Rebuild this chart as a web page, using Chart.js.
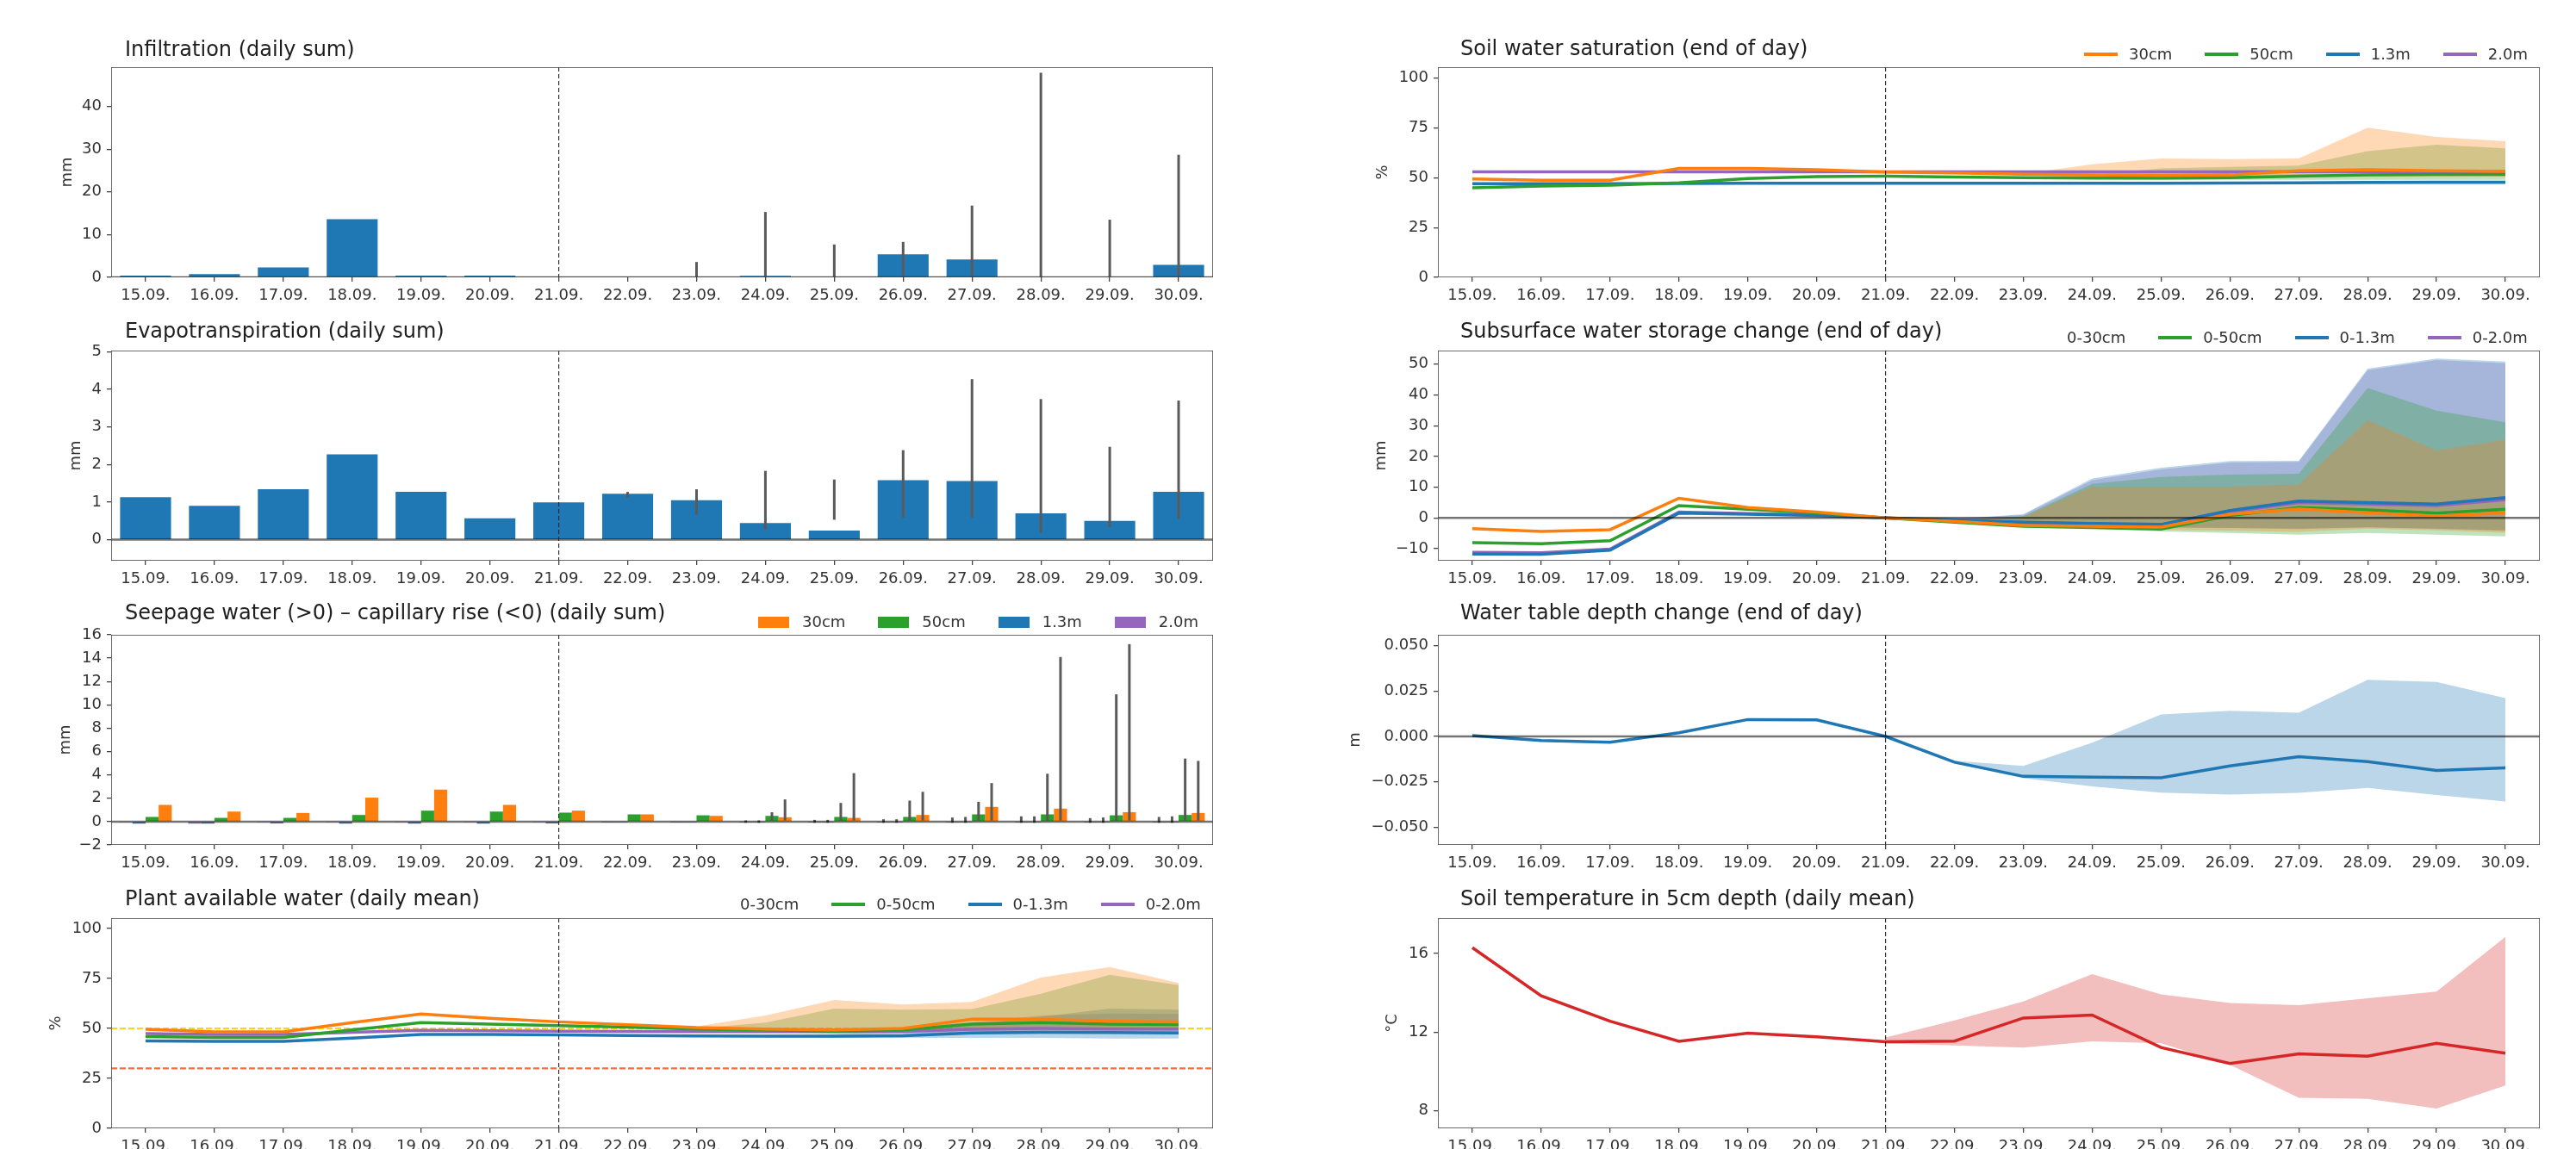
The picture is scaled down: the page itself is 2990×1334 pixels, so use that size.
<!DOCTYPE html>
<html><head><meta charset="utf-8">
<script src="https://cdn.jsdelivr.net/npm/chart.js@4.4.0/dist/chart.umd.min.js"></script>
<style>
html,body{margin:0;padding:0;background:#fff;}
body{width:2990px;height:1334px;position:relative;overflow:hidden;font-family:"DejaVu Sans",sans-serif;}
canvas{position:absolute;}
.title{position:absolute;font-size:24px;line-height:24px;color:#1e1e1e;white-space:nowrap;}
.legend{position:absolute;display:flex;align-items:center;font-size:18px;line-height:18px;height:18px;color:#333;white-space:nowrap;}
.legend .h{width:39px;height:3.5px;margin-right:13px;flex:none;}
.legend .p{width:36px;height:13px;margin-right:15px;flex:none;}
.legend .t{margin-right:38px;}
</style></head><body>
<script>
// ---------- categories & ticks ----------
const categories = ['15.09.','16.09.','17.09.','18.09.','19.09.','20.09.','21.09.','22.09.','23.09.','24.09.','25.09.','26.09.','27.09.','28.09.','29.09.','30.09.'];
const forecastStart = '21.09.';
const N = null;
const ticksInfiltration = [0,10,20,30,40];
const ticksET = [0,1,2,3,4,5];
const ticksSeepage = [-2,0,2,4,6,8,10,12,14,16];
const ticksPercent = [0,25,50,75,100];
const ticksStorage = [-10,0,10,20,30,40,50];
const ticksWaterTable = [-0.05,-0.025,0,0.025,0.05];
const ticksTemp = [8,12,16];
const pawThresholds = [50,30];

// ---------- Infiltration ----------
const infiltration     = [0.4,0.75,2.3,13.6,0.4,0.4,0,0,0,0.35,0,5.4,4.2,0,0,2.9];
const infiltrationLow  = [N,N,N,N,N,N,N,N,0,0,0,0,0,0,0,0];
const infiltrationHigh = [N,N,N,N,N,N,N,N,3.6,15.3,7.7,8.3,16.8,47.9,13.5,28.7];

// ---------- Evapotranspiration ----------
const evapotranspiration = [1.13,0.90,1.34,2.27,1.27,0.57,0.99,1.22,1.05,0.44,0.24,1.58,1.56,0.70,0.50,1.27];
const etLow  = [N,N,N,N,N,N,N,1.12,0.66,0.27,0.53,0.59,0.59,0.19,0.34,0.56];
const etHigh = [N,N,N,N,N,N,N,1.27,1.34,1.83,1.60,2.38,4.27,3.74,2.47,3.70];

// ---------- Seepage / capillary rise ----------
const seep30 = [1.43,0.86,0.74,2.05,2.74,1.43,0.94,0.62,0.49,0.37,0.32,0.57,1.26,1.11,0.81,0.74];
const seep50 = [0.40,0.32,0.32,0.57,0.94,0.86,0.77,0.62,0.54,0.49,0.40,0.40,0.62,0.62,0.54,0.57];
const seep13 = [-0.17,-0.17,-0.15,-0.17,-0.17,-0.17,-0.15,-0.02,-0.02,-0.02,-0.02,-0.02,-0.02,-0.02,-0.02,-0.02];
const seep20 = [-0.03,-0.17,-0.03,-0.03,-0.03,-0.03,-0.03,-0.01,-0.01,-0.01,-0.01,-0.01,-0.01,-0.01,-0.01,-0.01];
const seep30Low  = [N,N,N,N,N,N,N,N,N,0.1,0.1,0.1,0.1,0.1,0.1,0.1];
const seep30High = [N,N,N,N,N,N,N,N,N,1.9,4.15,2.55,3.3,14.1,15.2,5.2];
const seep50Low  = [N,N,N,N,N,N,N,N,N,0.1,0.1,0.1,0.1,0.1,0.1,0.1];
const seep50High = [N,N,N,N,N,N,N,N,N,0.8,1.6,1.8,1.7,4.1,10.9,5.4];
const seep13Low  = [N,N,N,N,N,N,N,N,N,-0.1,-0.1,-0.1,-0.1,-0.1,-0.1,-0.1];
const seep13High = [N,N,N,N,N,N,N,N,N,0.1,0.15,0.2,0.4,0.45,0.35,0.45];
const seep20Low  = [N,N,N,N,N,N,N,N,N,-0.1,-0.1,-0.1,-0.1,-0.1,-0.1,-0.1];
const seep20High = [N,N,N,N,N,N,N,N,N,0.1,0.15,0.2,0.35,0.45,0.3,0.4];

// ---------- Plant available water ----------
const paw30 = [49.6,48.3,48.3,52.9,57.2,55.1,53.3,51.9,50.4,49.7,49.3,50.0,54.6,54.6,53.6,53.2];
const paw50 = [45.9,45.5,45.5,49.3,52.9,52.2,51.4,50.7,49.7,49.3,48.6,49.3,52.2,52.9,52.2,51.9];
const paw13 = [43.8,43.5,43.5,45.2,47.0,47.0,46.8,46.5,46.2,46.1,46.1,46.4,47.8,48.1,48.0,47.8];
const paw20 = [47.4,47.0,47.0,48.1,49.0,48.8,48.6,48.5,48.4,48.4,48.4,48.5,49.6,50.0,49.7,49.7];
const paw30Lower = [N,N,N,N,N,N,53.3,51.5,49.8,48.8,48.3,48.6,49.5,50.0,50.0,50.0];
const paw30Upper = [N,N,N,N,N,N,53.3,52.4,51.0,56.5,64.2,62.0,63.3,75.4,80.7,72.8];
const paw50Lower = [N,N,N,N,N,N,51.4,50.4,49.2,48.4,47.8,48.2,48.8,49.0,49.0,49.0];
const paw50Upper = [N,N,N,N,N,N,51.4,51.0,50.0,52.9,59.9,59.4,59.7,67.4,76.8,71.7];
const paw13Lower = [N,N,N,N,N,N,46.8,46.3,45.9,45.6,45.3,45.3,45.3,45.3,45.0,45.0];
const paw13Upper = [N,N,N,N,N,N,46.8,46.7,46.6,46.8,47.2,49.3,52.0,55.8,59.9,59.4];
const paw20Lower = [N,N,N,N,N,N,48.6,48.3,48.0,47.8,47.6,47.6,47.6,47.6,47.5,47.5];
const paw20Upper = [N,N,N,N,N,N,48.6,48.6,48.7,49.0,49.4,50.5,53.0,56.5,57.5,57.2];

// ---------- Soil water saturation ----------
const sws30 = [49.4,48.8,48.8,54.7,54.7,54.0,52.9,52.4,51.8,51.4,51.1,51.4,53.5,54.0,53.5,53.2];
const sws50 = [45.0,45.8,46.3,47.5,49.6,50.6,50.8,50.4,50.1,49.8,49.8,50.1,50.8,51.4,51.7,51.7];
const sws13 = [47.0,47.0,47.0,47.1,47.2,47.2,47.2,47.2,47.2,47.2,47.2,47.3,47.5,47.7,47.8,47.8];
const sws20 = [53.0,53.0,53.0,53.0,53.0,53.0,53.0,53.0,53.0,53.0,53.0,53.0,53.1,53.1,53.1,53.1];
const sws30Lower = [N,N,N,N,N,N,52.9,52.0,51.3,50.5,50.0,50.0,50.5,50.5,50.5,50.5];
const sws30Upper = [N,N,N,N,N,N,52.9,52.6,52.0,56.8,59.7,59.3,59.7,75.1,70.5,68.3];
const sws50Lower = [N,N,N,N,N,N,50.8,50.2,49.8,49.3,49.0,49.0,49.0,49.0,49.0,49.0];
const sws50Upper = [N,N,N,N,N,N,50.8,50.6,50.5,51.5,54.7,55.4,56.1,63.3,66.6,64.7];
const sws13Lower = [N,N,N,N,N,N,47.2,47.0,46.9,46.8,46.7,46.7,46.7,46.7,46.6,46.6];
const sws13Upper = [N,N,N,N,N,N,47.2,47.3,47.4,47.5,47.6,47.7,48.0,48.2,48.3,48.3];
const sws20Lower = [N,N,N,N,N,N,53.0,52.9,52.8,52.7,52.6,52.6,52.6,52.5,52.5,52.5];
const sws20Upper = [N,N,N,N,N,N,53.0,53.1,53.2,53.3,53.4,53.5,53.7,53.8,53.8,53.8];

// ---------- Subsurface water storage change ----------
const st30 = [-3.5,-4.4,-3.8,6.4,3.4,1.9,0,-1.1,-2.4,-2.7,-3.0,1.2,2.9,1.7,0.6,1.7];
const st50 = [-8.0,-8.4,-7.4,4.0,2.8,1.6,0,-1.4,-2.7,-3.1,-3.6,0.8,3.4,2.6,1.6,2.8];
const st13 = [-11.7,-11.8,-10.5,1.6,1.2,0.8,0,-0.7,-1.4,-1.8,-2.1,2.4,5.5,5.0,4.5,6.6];
const st20 = [-11.2,-11.3,-10.1,1.9,1.4,1.0,0,-0.8,-1.5,-1.9,-2.2,2.0,5.0,4.5,4.0,5.9];
const st30Lower = [N,N,N,N,N,N,0,-1.4,-2.7,-3.2,-3.8,-4.2,-4.5,-3.5,-4.0,-4.8];
const st30Upper = [N,N,N,N,N,N,0,-0.8,0.3,10.2,10.2,10.2,10.9,31.8,21.9,25.4];
const st50Lower = [N,N,N,N,N,N,0,-1.6,-3.0,-3.5,-4.4,-4.9,-5.4,-4.9,-5.4,-6.0];
const st50Upper = [N,N,N,N,N,N,0,-0.8,0.5,11.1,13.3,14.1,14.4,42.2,34.9,31.1];
const st13Lower = [N,N,N,N,N,N,0,-1.0,-2.0,-2.5,-3.0,-3.2,-3.5,-3.0,-3.5,-4.0];
const st13Upper = [N,N,N,N,N,N,0,-0.3,1.2,12.8,16.3,18.5,18.6,48.5,51.8,50.8];
const st20Lower = [N,N,N,N,N,N,0,-1.0,-2.0,-2.6,-3.1,-3.3,-3.6,-3.1,-3.6,-4.2];
const st20Upper = [N,N,N,N,N,N,0,-0.4,1.0,12.3,15.8,18.0,18.2,48.0,51.3,50.3];

// ---------- Water table depth change ----------
const wtd      = [0.0005,-0.0022,-0.0032,0.002,0.0093,0.0091,0,-0.0142,-0.022,-0.0224,-0.0228,-0.0163,-0.0112,-0.0139,-0.0187,-0.0173];
const wtdLower = [N,N,N,N,N,N,0,-0.0147,-0.023,-0.0275,-0.031,-0.032,-0.0311,-0.0283,-0.0323,-0.0358];
const wtdUpper = [N,N,N,N,N,N,0,-0.0134,-0.0163,-0.0035,0.0121,0.0141,0.0131,0.0312,0.030,0.0211];

// ---------- Soil temperature ----------
const temp      = [16.3,13.85,12.56,11.54,11.95,11.76,11.51,11.55,12.72,12.87,11.22,10.41,10.9,10.78,11.44,10.93];
const tempLower = [N,N,N,N,N,N,11.43,11.33,11.22,11.54,11.44,10.34,8.66,8.61,8.12,9.29];
const tempUpper = [N,N,N,N,N,N,11.73,12.6,13.56,14.95,13.92,13.49,13.37,13.73,14.07,16.85];

// ---------- styling ----------
const C = {orange:'#ff7f0e', green:'#2ca02c', blue:'#1f77b4', purple:'#9467bd', red:'#d62728'};
const A = {orange:'rgba(255,127,14,0.3)', green:'rgba(44,160,44,0.3)', blue:'rgba(31,119,180,0.3)', purple:'rgba(148,103,189,0.3)', red:'rgba(214,39,40,0.3)'};
const ERR = '#5a5a5a', AX = '#444', TXT = '#333';
const LW = 3.5;
const ZERO = {color:'rgba(0,0,0,0.55)', width:2.5, dash:[]};

Chart.defaults.font.family = "'DejaVu Sans', sans-serif";
Chart.defaults.font.size = 18;
Chart.defaults.color = TXT;

const pairs = (lo, hi) => hi.map((h, i) => (h == null || lo[i] == null) ? null : [lo[i], h]);

const refLinesPlugin = {
  id: 'refLinesCustom',
  beforeDatasetsDraw(chart) { drawRefs(chart, true); },
  afterDatasetsDraw(chart) { drawRefs(chart, false); }
};
function drawRefs(chart, before) {
  const spec = chart.canvas.refSpec; if (!spec) return;
  const {ctx, chartArea: a, scales: {x, y}} = chart;
  ctx.save();
  ctx.beginPath(); ctx.rect(a.left, a.top, a.right - a.left, a.bottom - a.top); ctx.clip();
  (spec.hlines || []).filter(h => !!h.before === before).forEach(h => {
    const py = y.getPixelForValue(h.value);
    ctx.strokeStyle = h.color; ctx.lineWidth = h.width; ctx.setLineDash(h.dash || []);
    ctx.beginPath(); ctx.moveTo(a.left, py); ctx.lineTo(a.right, py); ctx.stroke();
  });
  if (!before) {
    const px = x.getPixelForValue(categories.indexOf(forecastStart));
    ctx.strokeStyle = '#222'; ctx.lineWidth = 1.1; ctx.setLineDash([5, 3]);
    ctx.beginPath(); ctx.moveTo(px, a.top); ctx.lineTo(px, a.bottom); ctx.stroke();
    ctx.setLineDash([]);
    ctx.strokeStyle = '#474747'; ctx.lineWidth = 1.6;
    ctx.strokeRect(a.left, a.top, a.right - a.left, a.bottom - a.top);
  }
  ctx.restore();
}
Chart.register(refLinesPlugin);

function barDs(data, color, stack, cp) {
  return {type:'bar', data, backgroundColor:color, stack, order:1, categoryPercentage:cp, barPercentage:1, borderWidth:0};
}
function errDs(lo, hi, stack, cp) {
  return {type:'bar', data:pairs(lo, hi), backgroundColor:ERR, stack, order:0, categoryPercentage:cp, barPercentage:1, maxBarThickness:3, borderWidth:0};
}
function lineDs(data, color, order) {
  return {type:'line', data, borderColor:color, backgroundColor:color, borderWidth:LW, pointRadius:0, fill:false, order, tension:0};
}
function bandDs(lower, upper, rgba, order) {
  return [
    {type:'line', data:lower, borderWidth:0, borderColor:'rgba(0,0,0,0)', pointRadius:0, fill:false, order},
    {type:'line', data:upper, borderWidth:0, borderColor:'rgba(0,0,0,0)', pointRadius:0, fill:'-1', backgroundColor:rgba, order}
  ];
}
const intFmt = v => (v < 0 ? '\u2212' + Math.abs(v) : String(v));
const wtFmt = v => (v < 0 ? '\u2212' + Math.abs(v).toFixed(3) : v.toFixed(3));

const LX = 129, RX = 1669, PW = 1279, PH = 244;
const ROWS = [78, 407, 737, 1066];

const panels = [
  { title:'Infiltration (daily sum)', tx:145, tb:65, L:LX, T:ROWS[0], yTitle:'mm', yTitleX:79,
    yMin:0, yMax:49.2, yTicks:ticksInfiltration, fmt:intFmt, hlines:[{value:0, ...ZERO}],
    datasets:[ barDs(infiltration, C.blue, 's', 0.74), errDs(infiltrationLow, infiltrationHigh, 's', 0.74) ] },
  { title:'Evapotranspiration (daily sum)', tx:145, tb:392, L:LX, T:ROWS[1], yTitle:'mm', yTitleX:89,
    yMin:-0.56, yMax:5.03, yTicks:ticksET, fmt:intFmt, hlines:[{value:0, ...ZERO}],
    datasets:[ barDs(evapotranspiration, C.blue, 's', 0.74), errDs(etLow, etHigh, 's', 0.74) ] },
  { title:'Seepage water (>0) \u2013 capillary rise (<0) (daily sum)', tx:145, tb:719, L:LX, T:ROWS[2], yTitle:'mm', yTitleX:77,
    yMin:-2, yMax:16, yTicks:ticksSeepage, fmt:intFmt, hlines:[{value:0, ...ZERO}],
    legend:{x:880, cy:722, kind:'p', items:[[C.orange,'30cm'],[C.green,'50cm'],[C.blue,'1.3m'],[C.purple,'2.0m']]},
    datasets:[
      barDs(seep20, C.purple, 's20', 0.76), barDs(seep13, C.blue, 's13', 0.76),
      barDs(seep50, C.green, 's50', 0.76), barDs(seep30, C.orange, 's30', 0.76),
      errDs(seep20Low, seep20High, 's20', 0.76), errDs(seep13Low, seep13High, 's13', 0.76),
      errDs(seep50Low, seep50High, 's50', 0.76), errDs(seep30Low, seep30High, 's30', 0.76) ] },
  { title:'Plant available water (daily mean)', tx:145, tb:1051, L:LX, T:ROWS[3], yTitle:'%', yTitleX:66,
    yMin:0, yMax:105.2, yTicks:ticksPercent, fmt:intFmt,
    hlines:[{value:pawThresholds[0], color:'#ffd21f', width:2.2, dash:[7,3], before:true},
            {value:pawThresholds[1], color:'#ff6a3d', width:2.2, dash:[7,3], before:true}],
    legend:{x:807, cy:1050, kind:'h', items:[[null,'0-30cm'],[C.green,'0-50cm'],[C.blue,'0-1.3m'],[C.purple,'0-2.0m']]},
    datasets:[
      ...bandDs(paw30Lower, paw30Upper, A.orange, 11), ...bandDs(paw50Lower, paw50Upper, A.green, 12),
      ...bandDs(paw13Lower, paw13Upper, A.blue, 13), ...bandDs(paw20Lower, paw20Upper, A.purple, 14),
      lineDs(paw20, C.purple, 4), lineDs(paw13, C.blue, 3), lineDs(paw50, C.green, 2), lineDs(paw30, C.orange, 1) ] },
  { title:'Soil water saturation (end of day)', tx:1695, tb:64, L:RX, T:ROWS[0], yTitle:'%', yTitleX:1606,
    yMin:0, yMax:105.5, yTicks:ticksPercent, fmt:intFmt,
    legend:{x:2419, cy:63, kind:'h', items:[[C.orange,'30cm'],[C.green,'50cm'],[C.blue,'1.3m'],[C.purple,'2.0m']]},
    datasets:[
      ...bandDs(sws30Lower, sws30Upper, A.orange, 11), ...bandDs(sws50Lower, sws50Upper, A.green, 12),
      ...bandDs(sws13Lower, sws13Upper, A.blue, 13), ...bandDs(sws20Lower, sws20Upper, A.purple, 14),
      lineDs(sws20, C.purple, 4), lineDs(sws13, C.blue, 3), lineDs(sws50, C.green, 2), lineDs(sws30, C.orange, 1) ] },
  { title:'Subsurface water storage change (end of day)', tx:1695, tb:392, L:RX, T:ROWS[1], yTitle:'mm', yTitleX:1604,
    yMin:-13.9, yMax:54.4, yTicks:ticksStorage, fmt:intFmt, hlines:[{value:0, ...ZERO}],
    legend:{x:2347, cy:392, kind:'h', items:[[null,'0-30cm'],[C.green,'0-50cm'],[C.blue,'0-1.3m'],[C.purple,'0-2.0m']]},
    datasets:[
      ...bandDs(st30Lower, st30Upper, A.orange, 11), ...bandDs(st50Lower, st50Upper, A.green, 12),
      ...bandDs(st13Lower, st13Upper, A.blue, 13), ...bandDs(st20Lower, st20Upper, A.purple, 14),
      lineDs(st20, C.purple, 4), lineDs(st13, C.blue, 3), lineDs(st50, C.green, 2), lineDs(st30, C.orange, 1) ] },
  { title:'Water table depth change (end of day)', tx:1695, tb:719, L:RX, T:ROWS[2], yTitle:'m', yTitleX:1574,
    yMin:-0.0598, yMax:0.056, yTicks:ticksWaterTable, fmt:wtFmt, hlines:[{value:0, ...ZERO}],
    datasets:[ ...bandDs(wtdLower, wtdUpper, A.blue, 10), lineDs(wtd, C.blue, 1) ] },
  { title:'Soil temperature in 5cm depth (daily mean)', tx:1695, tb:1051, L:RX, T:ROWS[3], yTitle:'\u00b0C', yTitleX:1617,
    yMin:7.11, yMax:17.8, yTicks:ticksTemp, fmt:intFmt,
    datasets:[ ...bandDs(tempLower, tempUpper, A.red, 10), lineDs(temp, C.red, 1) ] }
];

const PT = 20, PR = 20, XH = 44;

panels.forEach(p => {
  const left = Math.round(p.yTitleX - 10.8);
  const YW = p.L - left;
  const w = YW + PW + PR, h = PT + PH + XH;
  const c = document.createElement('canvas');
  c.width = w; c.height = h;
  c.style.left = left + 'px'; c.style.top = (p.T - PT) + 'px';
  c.style.width = w + 'px'; c.style.height = h + 'px';
  document.body.appendChild(c);
  c.refSpec = {hlines: p.hlines || []};
  const isBar = p.datasets[0].type === 'bar';
  new Chart(c, {
    type: isBar ? 'bar' : 'line',
    data: {labels: categories, datasets: p.datasets},
    options: {
      responsive:false, animation:false, devicePixelRatio:1, events:[],
      layout:{padding:{top:PT, right:PR, left:0, bottom:0}},
      plugins:{legend:{display:false}, tooltip:{enabled:false}, title:{display:false}},
      scales:{
        x:{type:'category', offset:true,
           grid:{offset:false, drawOnChartArea:false, drawTicks:true, tickLength:5, color:AX, lineWidth:1.3},
           border:{display:false},
           ticks:{maxRotation:0, minRotation:0, autoSkip:false, padding:6, color:TXT},
           afterFit: s => { s.height = XH; }},
        y:{type:'linear', min:p.yMin, max:p.yMax, stacked:false,
           grid:{drawOnChartArea:false, drawTicks:true, tickLength:5, color:AX, lineWidth:1.3},
           border:{display:false},
           ticks:{padding:6, color:TXT, callback: v => p.fmt(v)},
           title:{display:true, text:p.yTitle, padding:0, color:TXT},
           afterBuildTicks: s => { s.ticks = p.yTicks.map(v => ({value:v})); },
           afterFit: s => { s.width = YW; }}
      }
    }
  });
  const t = document.createElement('div');
  t.className = 'title'; t.textContent = p.title;
  t.style.left = p.tx + 'px'; t.style.top = (p.tb - 20.3) + 'px';
  document.body.appendChild(t);
  if (p.legend) {
    const lg = document.createElement('div');
    lg.className = 'legend';
    lg.style.left = p.legend.x + 'px'; lg.style.top = (p.legend.cy - 9) + 'px';
    p.legend.items.forEach(([col, txt], i) => {
      const hd = document.createElement('span');
      hd.className = p.legend.kind;
      hd.style.background = col || 'transparent';
      const tx = document.createElement('span');
      tx.className = 't'; tx.textContent = txt;
      if (i === p.legend.items.length - 1) tx.style.marginRight = '0';
      lg.appendChild(hd); lg.appendChild(tx);
    });
    document.body.appendChild(lg);
  }
});
</script>
</body></html>
